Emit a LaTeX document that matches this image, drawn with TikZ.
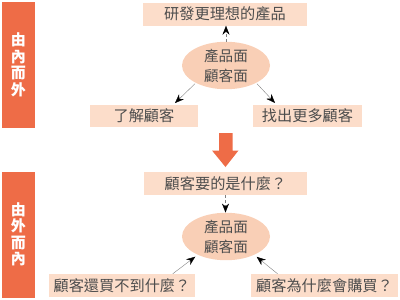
\documentclass[tikz,border=0pt]{standalone}
\usepackage{fontspec}
\usepackage{tikz}
\usetikzlibrary{arrows.meta,shapes.geometric}
\setmainfont{Noto Sans CJK TC}
\definecolor{sideorange}{HTML}{EE6C47}
\definecolor{boxpeach}{HTML}{FCDDCA}
\definecolor{ellpeach}{HTML}{F9CFB6}
\definecolor{textgray}{HTML}{4D4D4D}

\begin{document}
\begin{tikzpicture}[x=1pt, y=-1pt,
  every node/.style={font=\fontsize{15.2}{20}\selectfont, text=textgray},
  peachbox/.style={fill=boxpeach, minimum height=23pt, inner sep=0pt},
  peachell/.style={ellipse, fill=ellpeach, minimum width=88pt, minimum height=45pt, inner sep=0pt, align=center,
    font=\fontsize{14.6}{20}\selectfont},
  sidebar/.style={fill=sideorange, minimum width=33pt, minimum height=126pt, inner sep=0pt, align=center,
    text=white, font=\fontsize{15}{16.5}\selectfont\bfseries},
  linkarrow/.style={draw=gray, thin, -{Stealth[black, length=9pt, width=7pt]}},
  dasharrow/.style={linkarrow, densely dashed}]
  \useasboundingbox (0,0) rectangle (400,300);
  % inside out
  \node[sidebar] (sidetop) at (18.5,65) {由\\內\\而\\外};
  \node[peachbox, minimum width=164pt] (better) at (225,14) {研發更理想的產品};
  \node[peachell] (ellA) at (226,65.5) {產品面\\顧客面};
  \node[peachbox, minimum width=108pt, minimum height=22pt] (know) at (144,116) {了解顧客};
  \node[peachbox, minimum width=109pt, minimum height=22pt] (more) at (307.5,116) {找出更多顧客};
  \draw[dasharrow] (ellA.north) -- (ellA.north |- better.south);
  \draw[linkarrow, shorten <=1pt, shorten >=2.5pt] (ellA.210) -- (know.21);
  \draw[linkarrow, shorten <=1pt, shorten >=2.5pt] (ellA.330) -- (more.160);
  % big arrow
  \fill[sideorange] (219,133) -- (232.5,133) -- (232.5,150.5) -- (238.5,150.5)
    -- (225.5,167) -- (212,150.5) -- (219,150.5) -- cycle;
  % outside in
  \node[sidebar] (sidebot) at (18.5,234.5) {由\\外\\而\\內};
  \node[peachbox, minimum width=163pt] (need) at (225.5,183.5) {顧客要的是什麼？};
  \node[peachell, minimum height=46pt] (ellB) at (226,236.5) {產品面\\顧客面};
  \node[peachbox, minimum width=146pt] (missing) at (122,285.5) {顧客還買不到什麼？};
  \node[peachbox, minimum width=147pt] (why) at (324.5,285.5) {顧客為什麼會購買？};
  \draw[dasharrow] (need.south) -- (need.south |- ellB.north);
  \draw[linkarrow, shorten >=3pt] (missing.13) -- (ellB.213);
  \draw[linkarrow, shorten >=3pt] (why.166) -- (ellB.327);
\end{tikzpicture}
\end{document}
